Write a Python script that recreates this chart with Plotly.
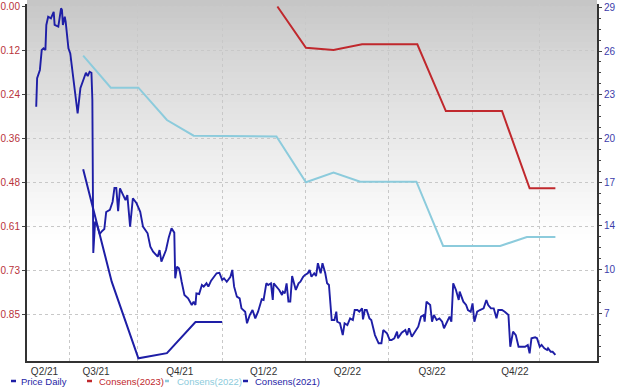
import plotly.graph_objects as go
import pandas as pd

START = "2021-06-02"

price_day = [10, 11, 14, 16, 18, 20, 21, 23, 26, 29, 30, 34, 37, 38, 39, 41, 42, 45, 47, 50,
             53, 55, 58, 61, 64, 66, 68, 70, 71, 72,
             74, 76, 79, 81, 84, 86, 90, 93, 95, 97, 99, 101, 104, 107, 109, 112, 115, 119, 123, 126,
             131, 134, 137, 142, 144, 146, 151, 154, 157, 160, 161, 163, 165, 166, 168, 171, 175, 179, 181, 183,
             184, 187, 190, 192, 195, 197, 200, 202, 206, 209, 212, 214, 217, 221, 223, 225, 228, 231, 233, 237,
             239, 242, 245, 248, 251, 255, 257, 260, 262, 265, 267, 268, 271, 274, 277, 278, 280, 282, 284, 286,
             288, 290, 292, 295, 297, 300, 302, 305, 307, 309, 312, 314, 316, 319, 321, 324, 326, 328, 331, 334,
             336, 337, 340, 343, 345, 348, 351, 354, 356, 359, 361, 364, 365, 367, 369, 372, 374, 378, 382, 385,
             387, 391, 394, 396, 399, 402, 403, 407, 411, 413, 415, 418, 422, 425, 428, 431, 432, 434, 438, 440,
             442, 445, 448, 451, 453, 456, 459, 461, 463, 466, 469, 470, 474, 477, 479, 482, 484, 486, 489, 492,
             496, 499, 501, 504, 507, 510, 512, 516, 519, 523, 525, 528, 531, 534, 537, 541, 544, 546, 548, 552,
             554, 557, 559, 562, 565, 566, 569, 571, 574]
price_value = [22.16, 24.20, 24.80, 26.23, 26.35, 26.23, 28.03, 28.62, 28.51, 28.98,
               28.03, 27.91, 29.23, 29.11, 28.03, 28.62, 28.27, 26.35, 25.99, 24.31,
               22.88, 21.68, 23.48, 24.08, 24.60, 24.36, 24.67, 24.60, 22.64, 11.65,
               13.90, 13.66, 13.01, 13.18, 13.37, 14.59, 14.74, 15.33, 16.32, 16.32,
               14.66, 16.29, 15.81, 15.45, 15.81, 13.54, 15.58, 15.22, 14.61, 13.54,
               13.06, 12.10, 11.74, 11.38, 11.86, 11.02, 11.86, 12.77, 13.42, 13.11,
               9.83, 10.66, 10.55, 10.30, 9.58, 8.63, 8.39, 7.91, 8.15, 7.91,
               8.75, 8.70, 9.35, 9.23, 9.47, 9.23, 9.66, 9.83, 10.19, 10.23,
               9.71, 9.83, 9.58, 9.94, 10.43, 9.23, 8.51, 8.39, 7.67, 7.43,
               6.60, 7.19, 7.55, 6.95, 7.43, 8.32, 8.27, 9.47, 9.35, 9.47,
               8.27, 9.47, 9.23, 8.99, 8.63, 8.87, 8.75, 9.47, 8.15, 8.15,
               9.99, 9.47, 8.99, 9.47, 9.58, 9.94, 10.07, 10.19, 10.43, 9.94,
               10.19, 9.99, 10.91, 10.19, 10.91, 10.19, 9.47, 9.35, 6.83, 6.83,
               7.43, 6.71, 6.60, 5.75, 6.60, 6.47, 6.95, 6.83, 7.55, 7.55,
               7.43, 7.67, 6.88, 7.55, 7.55, 6.95, 6.83, 5.75, 5.16, 5.16,
               6.11, 5.88, 5.40, 5.40, 5.52, 5.99, 5.52, 5.92, 6.11, 5.75,
               6.24, 5.63, 5.99, 6.35, 7.07, 7.19, 6.71, 8.15, 7.91, 6.71,
               7.19, 6.83, 6.95, 6.71, 6.24, 6.71, 7.07, 6.71, 9.47, 8.99,
               8.27, 8.87, 8.15, 7.91, 7.55, 7.43, 8.03, 6.71, 7.43, 7.55,
               7.67, 8.27, 7.91, 7.67, 7.67, 6.95, 7.55, 7.55, 7.43, 7.19,
               4.91, 5.99, 5.75, 4.91, 4.91, 4.91, 5.04, 4.44, 5.52, 5.59,
               5.52, 4.91, 5.04, 4.80, 4.68, 4.80, 4.55, 4.55, 4.32]

cons2023_day = [272, 303, 333, 364, 424, 455, 516, 546, 574]
cons2023_value = [0.0, 0.1135, 0.1198, 0.1041, 0.1041, 0.2879, 0.2879, 0.5008, 0.5008]

cons2022_day = [61, 91, 121, 152, 181, 271, 303, 333, 362, 423, 452, 514, 543, 574]
cons2022_value = [0.1355, 0.2237, 0.2237, 0.3126, 0.3559, 0.3581, 0.4842, 0.4572, 0.4826,
                  0.4826, 0.6597, 0.6597, 0.6349, 0.6349]

cons2021_day = [61, 92, 121, 152, 183, 212]
cons2021_value = [0.448, 0.758, 0.969, 0.955, 0.869, 0.869]

quarter_labels = ["Q2/21", "Q3/21", "Q4/21", "Q1/22", "Q2/22", "Q3/22", "Q4/22"]
quarter_label_dates = ["2021-06-21", "2021-08-16", "2021-11-15", "2022-02-14",
                       "2022-05-16", "2022-08-16", "2022-11-14"]
grid_dates = ["2021-07-18", "2021-09-30", "2021-12-31", "2022-04-01",
              "2022-06-30", "2022-09-29", "2022-12-11"]

eps_ticks = [0.0, 0.1212, 0.2424, 0.3636, 0.4848, 0.606, 0.7272, 0.8484]
eps_labels = ["0.00", "0.12", "0.24", "0.36", "0.48", "0.61", "0.73", "0.85"]
price_ticks = [29.3, 26.16, 23.02, 19.88, 16.74, 13.6, 10.46, 7.32]
price_labels = ["29", "26", "23", "20", "17", "14", "10", "7"]

legend_names = ["Price Daily", "Consens(2023)", "Consens(2022)", "Consens(2021)"]
legend_colors = ["#1e1ea6", "#c0282d", "#8ccbdc", "#1e1ea6"]

start = pd.Timestamp(START)


def to_dates(days):
    return [start + pd.Timedelta(days=d) for d in days]


fig = go.Figure()
fig.add_trace(go.Scatter(x=to_dates(cons2022_day), y=cons2022_value, mode="lines",
                         name="Consens(2022)", line=dict(color="#8ccbdc", width=2), yaxis="y"))
fig.add_trace(go.Scatter(x=to_dates(cons2023_day), y=cons2023_value, mode="lines",
                         name="Consens(2023)", line=dict(color="#c0282d", width=2), yaxis="y"))
fig.add_trace(go.Scatter(x=to_dates(cons2021_day), y=cons2021_value, mode="lines",
                         name="Consens(2021)", line=dict(color="#1e1ea6", width=2), yaxis="y"))
fig.add_trace(go.Scatter(x=to_dates(price_day), y=price_value, mode="lines",
                         name="Price Daily", line=dict(color="#1e1ea6", width=1.9), yaxis="y2"))

# plot area in pixels: left 27, right 597, top 4, bottom 361
L, R, T, B = 27, 597, 4, 361
W, H = R - L, B - T


def py(ypx):
    return (B - ypx) / H


def px(xpx):
    return (xpx - L) / W


shapes = []
# gradient background (top gray fading to white)
N = 40
top_px, end_px = 0, 240
for i in range(N):
    y0 = top_px + (end_px - top_px) * i / N
    y1 = top_px + (end_px - top_px) * (i + 1) / N
    t = (i + 0.5) / N
    g = int(round(197 + (255 - 197) * t ** 0.85))
    shapes.append(dict(type="rect", xref="paper", yref="paper", x0=0, x1=1,
                       y0=py(y1), y1=py(y0), fillcolor=f"rgb({g},{g},{g})",
                       line=dict(width=0), layer="below"))

annotations = []
leg_text_x = [19, 97, 175, 253]
leg_dash_x = [(11, 16), (87, 92), (165, 169), (243, 248)]
leg_y = 381
for name, col, tx, (d0, d1) in zip(legend_names, legend_colors, leg_text_x, leg_dash_x):
    annotations.append(dict(text=name, x=px(tx), y=py(leg_y), xref="paper", yref="paper",
                            xanchor="left", yanchor="middle", showarrow=False,
                            font=dict(size=9.5, color=col, family="Liberation Sans, Arial, sans-serif")))
    shapes.append(dict(type="line", xref="paper", yref="paper", x0=px(d0), x1=px(d1),
                       y0=py(leg_y), y1=py(leg_y), line=dict(color=col, width=2.5)))

end_date = start + pd.Timedelta(days=619.2)

fig.update_layout(
    width=620, height=389,
    margin=dict(l=L, r=620 - R, t=T, b=389 - B, autoexpand=False),
    paper_bgcolor="white", plot_bgcolor="white",
    showlegend=False,
    font=dict(family="Liberation Sans, Arial, sans-serif", size=10, color="#333333"),
    shapes=shapes, annotations=annotations,
    xaxis=dict(type="date", range=[start, end_date],
               tickmode="array", tickvals=quarter_label_dates, ticktext=quarter_labels,
               showgrid=False, ticks="", showline=True, linecolor="#333333", linewidth=2,
               tickfont=dict(size=10, color="#333333"), zeroline=False,
               minor=dict(tickmode="array", tickvals=grid_dates, showgrid=True,
                          gridcolor="#c8c8c8", griddash="dot", gridwidth=1, ticks="")),
    yaxis=dict(range=[0.9765, -0.0069], tickmode="array", tickvals=eps_ticks, ticktext=eps_labels,
               showgrid=True, gridcolor="#c8c8c8", griddash="dot", gridwidth=1,
               ticks="outside", ticklen=3, tickcolor="#444444",
               showline=True, linecolor="#333333", linewidth=2, zeroline=False,
               tickfont=dict(size=10, color="#b8323a")),
    yaxis2=dict(range=[3.887, 29.537], overlaying="y", side="right",
                tickmode="array", tickvals=price_ticks, ticktext=price_labels,
                showgrid=False, ticks="outside", ticklen=3, tickcolor="#444444",
                showline=True, linecolor="#333333", linewidth=2, zeroline=False,
                tickfont=dict(size=10, color="#3c3caa"),
                minor=dict(tickmode="linear", tick0=29.3, dtick=0.785, ticks="outside",
                           ticklen=2, tickcolor="#444444", showgrid=False)),
)

fig.write_html("out.html", config={"displayModeBar": False, "staticPlot": True},
               post_script="document.body.style.margin='0';document.body.style.overflow='hidden';")
